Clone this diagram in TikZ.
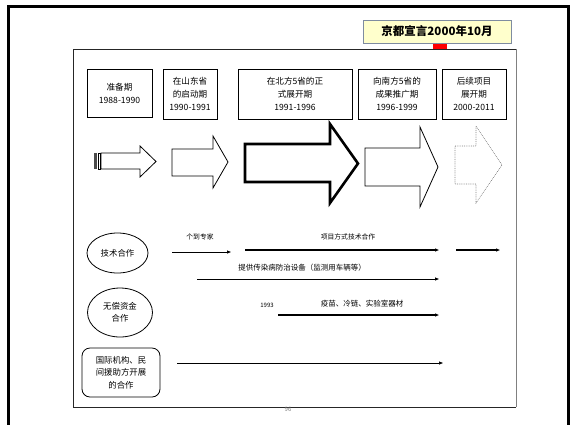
\documentclass[tikz,border=0pt]{standalone}
\usepackage{fontspec}
\setmainfont{Noto Sans CJK SC}
\usetikzlibrary{arrows.meta,shapes.geometric}
\definecolor{titlefill}{HTML}{FFFFCC}
\definecolor{titleedge}{HTML}{7F8CA0}
\tikzset{
  stagebox/.style={draw, line width=0.8pt, align=center, inner sep=0pt,
    font=\fontsize{8.6pt}{13pt}\selectfont},
  fieldshape/.style={draw, line width=0.8pt, align=center, inner sep=0pt,
    font=\fontsize{8.4pt}{12.5pt}\selectfont},
  flowlabel/.style={font=\fontsize{6.8pt}{8pt}\selectfont, inner sep=0pt},
  widelabel/.style={font=\fontsize{7.5pt}{8pt}\selectfont, inner sep=0pt},
  flowarrow/.style={line width=0.8pt, -{Triangle[length=4pt,width=3pt]}},
  blockarrow/.style={draw, line width=0.8pt, fill=white, line join=miter},
}
\begin{document}
\begin{tikzpicture}[x=1pt,y=-1pt]
\useasboundingbox (0,0) rectangle (570,424);
% outer frame
\draw[line width=3pt] (8.5,430) -- (8.5,6.5) -- (568.5,6.5) -- (568.5,430);
% inner frame
\draw[line width=0.8pt, black!85] (516,407) -- (73,407) -- (73,49) -- (516,49);
\draw[line width=0.8pt, gray] (516,49) -- (516,407);
% title
\fill[red] (433,42) rectangle (447,49);
\node[draw=titleedge, fill=titlefill, line width=0.8pt, minimum width=148pt, minimum height=23pt,
  inner sep=0pt, font=\fontsize{11.5pt}{12pt}\selectfont\bfseries] (title) at (437,31.5) {京都宣言2000年10月};
% stage boxes
\node[stagebox, minimum width=65pt, minimum height=48pt] (p1) at (119.5,93) {准备期\\1988-1990};
\node[stagebox, minimum width=54pt, minimum height=50pt] (p2) at (190,94) {在山东省\\的启动期\\1990-1991};
\node[stagebox, minimum width=114pt, minimum height=50pt] (p3) at (295,94) {在北方5省的正\\式展开期\\1991-1996};
\node[stagebox, minimum width=78pt, minimum height=50pt] (p4) at (397,94) {向南方5省的\\成果推广期\\1996-1999};
\node[stagebox, minimum width=64pt, minimum height=50pt] (p5) at (474,94) {后续项目\\展开期\\2000-2011};
% block arrows
\fill[black!70] (94,153) rectangle (96.5,169);
\draw[line width=0.6pt] (97.8,153) rectangle (99.8,169);
\draw[blockarrow] (101,153) -- (140,153) -- (140,146) -- (156,161.5) -- (140,177) -- (140,169) -- (101,169) -- cycle;
\draw[blockarrow] (172,149) -- (213,149) -- (213,136) -- (228,162) -- (213,188) -- (213,176) -- (172,176) -- cycle;
\draw[blockarrow, line width=2.6pt] (245,144) -- (330,144) -- (330,124) -- (358,163.5) -- (330,203) -- (330,182) -- (245,182) -- cycle;
\draw[blockarrow] (365,148) -- (420,148) -- (420,127) -- (438,167) -- (420,207) -- (420,186) -- (365,186) -- cycle;
\draw[blockarrow, draw=gray, densely dotted, line width=0.6pt] (455,146) -- (476,146) -- (476,126) -- (502,165) -- (476,203) -- (476,184) -- (455,184) -- cycle;
% fields
\node[fieldshape, ellipse, minimum width=61pt, minimum height=40pt] (tech) at (117.5,253) {技术合作};
\node[fieldshape, ellipse, minimum width=65pt, minimum height=49pt] (grant) at (120,312.5) {无偿资金\\合作};
\node[fieldshape, rounded corners=8pt, minimum width=78pt, minimum height=49pt] (intl) at (121,372.5) {国际机构、民\\间援助方开展\\的合作};
% connectors
\coordinate (e1s) at (172,252); \coordinate (e1e) at (231,252);
\coordinate (e2s) at (245,250); \coordinate (e2e) at (439,250);
\coordinate (e3s) at (456,250); \coordinate (e3e) at (500,250);
\coordinate (e4s) at (197,279); \coordinate (e4e) at (439,279);
\coordinate (e5s) at (278,315); \coordinate (e5e) at (439,315);
\coordinate (e6s) at (177,363); \coordinate (e6e) at (443,363);
\draw[flowarrow] (e1s) -- (e1e);
\draw[flowarrow, line width=1.5pt] (e2s) -- (e2e);
\draw[flowarrow, line width=1.2pt] (e3s) -- (e3e);
\draw[flowarrow] (e4s) -- (e4e);
\draw[flowarrow, line width=1.3pt] (e5s) -- (e5e);
\draw[flowarrow, line width=0.7pt] (e6s) -- (e6e);
% labels
\node[flowlabel] (l1) at (200,236.5) {个到专家};
\node[flowlabel] (l2) at (348,237) {项目方式技术合作};
\node[widelabel] (l3) at (302,268) {提供传染病防治设备（监测用车辆等）};
\node[flowlabel, font=\fontsize{6pt}{7pt}\selectfont] (l4) at (267,305) {1993};
\node[widelabel] (l5) at (362,304) {疫苗、冷链、实验室器材};
\node[flowlabel, text=gray, font=\fontsize{6pt}{7pt}\selectfont] (pg) at (288,409) {96};
\end{tikzpicture}
\end{document}
